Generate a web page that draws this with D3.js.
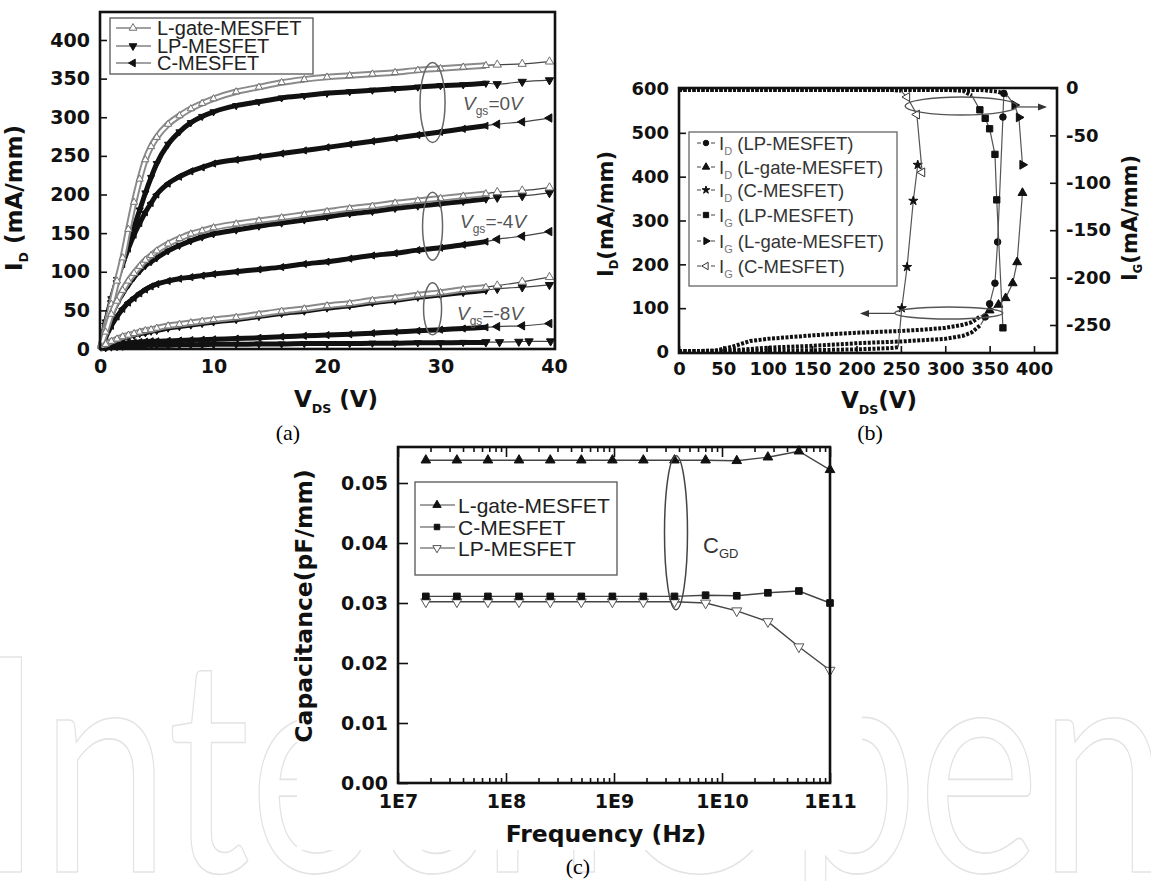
<!DOCTYPE html>
<html>
<head>
<meta charset="utf-8">
<script src="https://cdn.jsdelivr.net/npm/d3@7/dist/d3.min.js"></script>
<style>
  body { margin: 0; background: #fff; }
  text { font-family: "Liberation Sans", Arial, sans-serif; }
  .tick text, .ttl { font-family: "DejaVu Sans", sans-serif; font-weight: bold; fill: #111; }
  .tick line { stroke: #111; stroke-width: 1.6; }
</style>
</head>
<body>
<svg id="fig" width="1151" height="881"></svg>
<script>
// ---------- (a) I-V curves, mA/mm vs V ----------
const vdsA = [0, 0.5, 1, 1.5, 2, 2.5, 3, 3.5, 4, 4.5, 5, 6, 7, 8, 9, 10, 12, 14, 16, 18, 20, 22, 24, 26, 28, 30, 32, 34];
const vdsTailA = [35, 37.2, 39.6];
const vdsTailLow = [34, 35.2, 36.9, 37.8, 39.7];

const lgate0 = [0, 28, 58, 88, 118, 155, 190, 220, 245, 262, 274, 291, 302, 311, 318, 324, 333, 339, 345, 349, 352, 354, 356, 358, 361, 363, 365, 367];
const lp0    = [0, 35, 65, 90, 112, 135, 158, 180, 202, 222, 240, 265, 281, 293, 301, 307, 315, 320, 325, 328, 331, 333, 335, 337, 339, 341, 342, 344];
const c0     = [0, 33, 62, 88, 110, 130, 148, 163, 177, 189, 200, 214, 223, 230, 235, 240, 245, 249, 253, 257, 261, 265, 269, 273, 277, 281, 285, 289];
const lgate4 = [0, 22, 45, 62, 76, 88, 98, 107, 115, 121, 127, 136, 143, 149, 153, 157, 162, 166, 170, 174, 178, 182, 185, 189, 192, 195, 198, 201];
const lp4    = [0, 21, 43, 59, 72, 83, 93, 101, 108, 113, 118, 127, 134, 140, 145, 149, 154, 159, 163, 167, 171, 175, 178, 182, 185, 188, 191, 194];
const c4     = [0, 15, 30, 42, 52, 60, 66, 72, 77, 81, 84, 88, 91, 93, 95, 97, 100, 103, 106, 110, 113, 117, 121, 124, 128, 131, 135, 139];
const lgate8 = [0, 6, 10, 13, 16, 18, 20, 22, 24, 25, 27, 30, 32, 34, 36, 38, 41, 45, 49, 52, 56, 59, 63, 66, 70, 73, 77, 80];
const lp8    = [0, 5, 9, 12, 14, 16, 18, 20, 21, 23, 24, 27, 29, 31, 33, 35, 38, 42, 46, 49, 53, 56, 60, 63, 67, 70, 73, 76];
const c8     = [0, 3, 5, 6, 7, 8, 8.5, 9, 9.5, 10, 10, 10.5, 11, 11.5, 12, 12.5, 13.5, 14.5, 16, 17, 18, 19, 20.5, 22, 23.5, 25, 26.5, 28];
const lpLow  = [0, 1.5, 2.5, 3, 3.5, 4, 4, 4.5, 4.5, 5, 5, 5, 5.5, 5.5, 5.5, 6, 6, 6.5, 6.5, 7, 7, 7, 7.5, 7.5, 8, 8, 8.5, 8.5];

const lgate0Tail = [368, 369, 372], lp0Tail = [343, 346, 348], c0Tail = [291, 294, 299];
const lgate4Tail = [203, 205, 209], lp4Tail = [196, 198, 202], c4Tail = [142, 146, 152];
const lgate8Tail = [82, 87, 93], lp8Tail = [78, 80, 83], c8Tail = [29, 30, 33];
const lpLowTail = [9, 9, 9.5, 10, 10];

const ticksA_y = [0, 50, 100, 150, 200, 250, 300, 350, 400];
const ticksA_x = [0, 10, 20, 30, 40];

// ---------- (b) breakdown ----------
const idLgateV = [0, 25, 40, 60, 80, 100, 125, 150, 175, 200, 225, 250, 275, 300, 320, 330, 340, 350, 360, 368, 376, 381, 387];
const idLgate  = [2, 2, 3, 12, 25, 30, 34, 38, 41, 44, 46, 48, 51, 55, 62, 68, 82, 95, 108, 123, 157, 205, 363];
const idLpV = [0, 50, 75, 100, 125, 150, 175, 200, 225, 250, 275, 300, 320, 330, 340, 345, 350, 356, 359, 365, 366];
const idLp  = [2, 3, 6, 10, 12, 14, 17, 20, 22, 24, 27, 30, 37, 45, 62, 80, 110, 157, 251, 536, 590];
const idCV = [0, 50, 100, 150, 200, 240, 247, 251, 257, 264, 269];
const idC  = [1, 2, 3, 4, 6, 9, 11, 100, 194, 345, 427];
const igLpV = [0, 50, 100, 150, 200, 250, 300, 320, 330, 339, 345, 350, 356, 358, 365];
const igLp  = [-2, -2, -2, -2, -2, -2, -2, -3, -8, -23, -32, -43, -70, -118, -253];
const igLgateV = [0, 50, 100, 150, 200, 250, 300, 340, 360, 370, 378, 383, 387];
const igLgate  = [-2, -2, -2, -2, -2, -2, -2, -2, -4, -8, -18, -31, -81];
const igCV = [0, 50, 100, 150, 200, 240, 250, 257, 268, 274];
const igC  = [-2, -2, -2, -2, -2, -2, -3, -9.5, -28, -89];

const ticksB_x = [0, 50, 100, 150, 200, 250, 300, 350, 400];
const ticksB_yl = [0, 100, 200, 300, 400, 500, 600];
const ticksB_yr = [0, -50, -100, -150, -200, -250];

// ---------- (c) C_GD vs frequency ----------
const freq = [1.81e7, 3.51e7, 6.8e7, 1.32e8, 2.57e8, 4.98e8, 9.66e8, 1.87e9, 3.63e9, 7.05e9, 1.37e10, 2.66e10, 5.15e10, 1e11];
const capLgate = [0.0538, 0.0538, 0.0538, 0.0538, 0.0538, 0.0538, 0.0538, 0.0538, 0.0538, 0.0538, 0.0537, 0.0543, 0.0553, 0.0522];
const capC     = [0.0311, 0.0311, 0.0311, 0.0311, 0.0311, 0.0311, 0.0311, 0.0311, 0.0311, 0.0313, 0.0312, 0.0317, 0.0320, 0.0300];
const capLp    = [0.0302, 0.0302, 0.0302, 0.0302, 0.0302, 0.0302, 0.0302, 0.0302, 0.0302, 0.0300, 0.0287, 0.0269, 0.0227, 0.0188];
const decades = [1e7, 1e8, 1e9, 1e10, 1e11];
const ticksC_y = [0, 0.01, 0.02, 0.03, 0.04, 0.05];

const svg = d3.select('#fig');
svg.append('rect').attr('width', 1151).attr('height', 881).attr('fill', '#fff');

const zip = (xs, ys) => xs.map((v, i) => [v, ys[i]]);
const symType = {up: d3.symbolTriangle, down: d3.symbolTriangle, left: d3.symbolTriangle, right: d3.symbolTriangle,
  circle: d3.symbolCircle, square: d3.symbolSquare, star: d3.symbolStar};
const symRot = {down: 180, left: -90, right: 90};

function mark(g, pts, x, y, m) {
  g.append('g').selectAll('path').data(pts).join('path')
    .attr('d', d3.symbol().type(symType[m.shape]).size(m.size))
    .attr('transform', d => `translate(${x(d[0])},${y(d[1])}) rotate(${symRot[m.shape] || 0})`)
    .attr('fill', m.fill).attr('stroke', m.stroke).attr('stroke-width', m.sw || 1);
}

function frame(g, x0, y0, x1, y1) {
  g.append('rect').attr('x', x0).attr('y', y0).attr('width', x1 - x0).attr('height', y1 - y0)
    .attr('fill', 'none').attr('stroke', '#111').attr('stroke-width', 2.6);
}

function styleAxis(sel, size) {
  sel.select('.domain').remove();
  sel.selectAll('.tick text').style('font-size', size + 'px');
}

// title with an optional subscript: parts = [[text, isSub], ...]
function title(g, x, y, rot, parts, size, cls) {
  const t = g.append('text').attr('class', cls || 'ttl').attr('text-anchor', 'middle')
    .attr('transform', `translate(${x},${y}) rotate(${rot})`).style('font-size', size + 'px');
  let shift = 0;
  parts.forEach(([s, sub]) => {
    const want = sub ? size * 0.25 : 0;
    t.append('tspan').text(s).attr('dy', want - shift).style('font-size', sub ? (size * 0.55) + 'px' : null);
    shift = want;
  });
  return t;
}

// ---------- watermark ----------
svg.append('text').text('IntechOpen')
  .attr('x', -22).attr('y', 872)
  .attr('textLength', 1190).attr('lengthAdjust', 'spacingAndGlyphs')
  .style('font-family', 'Lato').style('font-weight', 400).style('font-size', '300px')
  .attr('fill', 'none').attr('stroke', '#e3e3e3').attr('stroke-width', 1.6);

// ================= panel (a) =================
const gA = svg.append('g');
const xA = d3.scaleLinear().domain([0, 40]).range([100, 554]);
const yA = d3.scaleLinear().domain([0, 400]).range([349, 40]);

const lineA = d3.line().x(d => xA(d[0])).y(d => yA(d[1])).curve(d3.curveMonotoneX);
const styleA = {
  lgate: {shape: 'up', fill: '#fff', stroke: '#707070'},
  lp: {shape: 'down', fill: '#111', stroke: '#111'},
  c: {shape: 'left', fill: '#111', stroke: '#111'}
};
const seriesA = [
  {dev: 'lp', dense: lpLow, tail: lpLowTail, tailV: vdsTailLow},
  {dev: 'c', dense: c0, tail: c0Tail}, {dev: 'c', dense: c4, tail: c4Tail}, {dev: 'c', dense: c8, tail: c8Tail},
  {dev: 'lp', dense: lp0, tail: lp0Tail}, {dev: 'lp', dense: lp4, tail: lp4Tail}, {dev: 'lp', dense: lp8, tail: lp8Tail},
  {dev: 'lgate', dense: lgate0, tail: lgate0Tail}, {dev: 'lgate', dense: lgate4, tail: lgate4Tail}, {dev: 'lgate', dense: lgate8, tail: lgate8Tail}
];
seriesA.forEach(s => {
  const st = styleA[s.dev];
  const dense = zip(vdsA, s.dense);
  const tail = [dense[dense.length - 1]].concat(zip(s.tailV || vdsTailA, s.tail));
  gA.append('path').attr('d', lineA(tail)).attr('fill', 'none').attr('stroke', '#444').attr('stroke-width', 1.2);
  if (s.dev === 'lgate') {
    gA.append('path').attr('d', lineA(dense)).attr('fill', 'none').attr('stroke', '#8a8a8a').attr('stroke-width', 6.5);
    gA.append('path').attr('d', lineA(dense)).attr('fill', 'none').attr('stroke', '#fff').attr('stroke-width', 2.6);
  } else {
    gA.append('path').attr('d', lineA(dense)).attr('fill', 'none').attr('stroke', '#111').attr('stroke-width', 5);
  }
  mark(gA, dense.slice(1), xA, yA, {...st, size: 22});
  mark(gA, tail.slice(1), xA, yA, {...st, size: 30});
});

frame(gA, 100, 12, 555, 349);
gA.append('g').attr('transform', 'translate(100,0)')
  .call(d3.axisLeft(yA).tickValues(ticksA_y).tickSize(-7).tickPadding(10)).call(styleAxis, 19);
gA.append('g').attr('transform', 'translate(0,349)')
  .call(d3.axisBottom(xA).tickValues(ticksA_x).tickSize(-7).tickPadding(11)).call(styleAxis, 19);

// ellipses + Vgs labels
[[319, 40, 12.5], [159, 34, 10], [52, 26, 9]].forEach(([c, ry, rx]) => {
  gA.append('ellipse').attr('cx', xA(29.3)).attr('cy', yA(c)).attr('rx', rx).attr('ry', ry)
    .attr('fill', 'none').attr('stroke', '#666').attr('stroke-width', 1.5);
});
[['=0', 463, 110], ['=-4', 460, 228], ['=-8', 457, 320]].forEach(([v, x, y]) => {
  const t = gA.append('text').attr('x', x).attr('y', y).style('font-size', '19px').attr('fill', '#555');
  t.append('tspan').text('V').style('font-style', 'italic');
  t.append('tspan').text('gs').attr('dy', 5).style('font-size', '12px');
  t.append('tspan').text(v).attr('dy', -5);
  t.append('tspan').text('V').style('font-style', 'italic');
});

// legend (a)
gA.append('rect').attr('x', 110).attr('y', 18).attr('width', 203).attr('height', 56)
  .attr('fill', '#fff').attr('stroke', '#555').attr('stroke-width', 1.3);
[['L-gate-MESFET', 'lgate', 28], ['LP-MESFET', 'lp', 46], ['C-MESFET', 'c', 63]].forEach(([name, dev, y]) => {
  gA.append('line').attr('x1', 116).attr('x2', 151).attr('y1', y).attr('y2', y).attr('stroke', '#444').attr('stroke-width', 1.2);
  mark(gA, [[133, y]], d => d, d => d, {...styleA[dev], size: 26});
  gA.append('text').attr('x', 157).attr('y', y).attr('dy', '0.36em').style('font-size', '20px').attr('fill', '#222').text(name);
});

title(gA, 22, 198, -90, [['I', false], ['D', true], [' (mA/mm)', false]], 23);
title(gA, 336, 407, 0, [['V', false], ['DS', true], [' (V)', false]], 23);
gA.append('text').attr('x', 288).attr('y', 440).attr('text-anchor', 'middle')
  .style('font-family', '"Liberation Serif", serif').style('font-size', '22px').text('(a)');

// ================= panel (b) =================
const gB = svg.append('g');
const xB = d3.scaleLinear().domain([0, 400]).range([679, 1034]);
const yBl = d3.scaleLinear().domain([0, 600]).range([352, 89]);
const yBr = d3.scaleLinear().domain([-250, 0]).range([325, 88]);

const seriesB = [
  {x: idLpV, y: idLp, ax: yBl, dense: 15, m: {shape: 'circle', fill: '#111', stroke: '#111', size: 34}},
  {x: idLgateV, y: idLgate, ax: yBl, dense: 17, m: {shape: 'up', fill: '#111', stroke: '#111', size: 34}},
  {x: idCV, y: idC, ax: yBl, dense: 7, m: {shape: 'star', fill: '#111', stroke: '#111', size: 26}},
  {x: igLpV, y: igLp, ax: yBr, dense: 9, m: {shape: 'square', fill: '#111', stroke: '#111', size: 40}},
  {x: igLgateV, y: igLgate, ax: yBr, dense: 10, m: {shape: 'right', fill: '#111', stroke: '#111', size: 34}},
  {x: igCV, y: igC, ax: yBr, dense: 7, m: {shape: 'left', fill: '#fff', stroke: '#333', size: 34}}
];
seriesB.forEach(s => {
  const pts = zip(s.x, s.y);
  const ln = d3.line().x(d => xB(d[0])).y(d => s.ax(d[1]));
  gB.append('path').attr('d', ln(pts.slice(s.dense - 1))).attr('fill', 'none').attr('stroke', '#555').attr('stroke-width', 1.2);
  gB.append('path').attr('d', ln(pts.slice(0, s.dense))).attr('fill', 'none').attr('stroke', '#111')
    .attr('stroke-width', 4).attr('stroke-dasharray', '3,1.5');
  mark(gB, pts.slice(s.dense), xB, s.ax, s.m);
});

// ellipses and arrows
const arrowHead = (x, y, dir) => gB.append('path')
  .attr('d', `M${x},${y} l${-9 * dir},-3.5 l0,7 z`).attr('fill', '#333');
gB.append('ellipse').attr('cx', xB(318)).attr('cy', yBr(-19)).attr('rx', 56).attr('ry', 9)
  .attr('fill', 'none').attr('stroke', '#555').attr('stroke-width', 1.4);
gB.append('line').attr('x1', xB(318) + 56).attr('x2', 1045).attr('y1', yBr(-20)).attr('y2', yBr(-20)).attr('stroke', '#444').attr('stroke-width', 1.2);
arrowHead(1047, yBr(-20), 1);
gB.append('ellipse').attr('cx', xB(304)).attr('cy', yBl(89)).attr('rx', 54).attr('ry', 6)
  .attr('fill', 'none').attr('stroke', '#555').attr('stroke-width', 1.4);
gB.append('line').attr('x1', xB(304) - 54).attr('x2', 862).attr('y1', yBl(88)).attr('y2', yBl(88)).attr('stroke', '#444').attr('stroke-width', 1.2);
arrowHead(860, yBl(88), -1);

frame(gB, 679, 88, 1057, 353);
gB.append('g').attr('transform', 'translate(679,0)')
  .call(d3.axisLeft(yBl).tickValues(ticksB_yl).tickSize(-7).tickPadding(10)).call(styleAxis, 18);
gB.append('g').attr('transform', 'translate(1057,0)')
  .call(d3.axisRight(yBr).tickValues(ticksB_yr).tickFormat(d => String(d)).tickSize(-7).tickPadding(9)).call(styleAxis, 18);
gB.append('g').attr('transform', 'translate(0,353)')
  .call(d3.axisBottom(xB).tickValues(ticksB_x).tickSize(-7).tickPadding(9)).call(styleAxis, 18);

// legend (b): entries follow seriesB order
const legB = [['D', '(LP-MESFET)'], ['D', '(L-gate-MESFET)'], ['D', '(C-MESFET)'],
  ['G', '(LP-MESFET)'], ['G', '(L-gate-MESFET)'], ['G', '(C-MESFET)']];
const legBy = [143, 167, 190, 215, 241, 266];
gB.append('rect').attr('x', 689).attr('y', 132).attr('width', 208).attr('height', 154)
  .attr('fill', '#fff').attr('stroke', '#666').attr('stroke-width', 1.3);
legB.forEach(([sub, name], i) => {
  const y = legBy[i];
  gB.append('line').attr('x1', 697).attr('x2', 716).attr('y1', y).attr('y2', y)
    .attr('stroke', '#444').attr('stroke-width', 1.2).attr('stroke-dasharray', '4,3');
  mark(gB, [[706, y]], d => d, d => d, {...seriesB[i].m, size: seriesB[i].m.size * 0.7});
  const t = gB.append('text').attr('x', 719).attr('y', y).attr('dy', '0.36em').style('font-size', '18.5px').attr('fill', '#333');
  t.append('tspan').text('I');
  t.append('tspan').text(sub).attr('dy', 5).style('font-size', '11px').attr('fill', '#777');
  t.append('tspan').text(' ' + name).attr('dy', -5);
});

title(gB, 613, 214, -90, [['I', false], ['D', true], ['(mA/mm)', false]], 21);
title(gB, 1137, 218, -90, [['I', false], ['G', true], ['(mA/mm)', false]], 21);
title(gB, 879, 408, 0, [['V', false], ['DS', true], ['(V)', false]], 23);
gB.append('text').attr('x', 870).attr('y', 440).attr('text-anchor', 'middle')
  .style('font-family', '"Liberation Serif", serif').style('font-size', '22px').text('(b)');

// ================= panel (c) =================
const gC = svg.append('g');
gC.append('rect').attr('x', 297).attr('y', 444).attr('width', 565).attr('height', 406).attr('fill', '#fff');
const xC = d3.scaleLog().domain([1e7, 1e11]).range([398, 830]);
const yC = d3.scaleLinear().domain([0, 0.056]).range([783, 447]);
const minor = decades.slice(0, 4).flatMap(d => d3.range(2, 10).map(k => d * k));

const seriesC = [
  {y: capLgate, m: {shape: 'up', fill: '#111', stroke: '#111', size: 40}},
  {y: capLp, m: {shape: 'down', fill: '#fff', stroke: '#555', size: 44}},
  {y: capC, m: {shape: 'square', fill: '#111', stroke: '#111', size: 44}}
];
const lineC = d3.line().x(d => xC(d[0])).y(d => yC(d[1]));
seriesC.forEach(s => {
  gC.append('path').attr('d', lineC(zip(freq, s.y))).attr('fill', 'none').attr('stroke', '#444').attr('stroke-width', 1.4);
});
seriesC.forEach(s => mark(gC, zip(freq, s.y), xC, yC, s.m));

frame(gC, 398, 447, 830, 783);
const fmtE = d => '1E' + Math.round(Math.log10(d));
gC.append('g').attr('transform', 'translate(0,783)')
  .call(d3.axisBottom(xC).tickValues(decades).tickFormat(fmtE).tickSize(-10).tickPadding(12)).call(styleAxis, 19);
gC.append('g').attr('transform', 'translate(0,783)')
  .call(d3.axisBottom(xC).tickValues(minor).tickFormat('').tickSize(-5)).call(styleAxis, 19);
gC.append('g').attr('transform', 'translate(0,447)')
  .call(d3.axisTop(xC).tickValues(decades).tickFormat('').tickSize(-10)).call(styleAxis, 19);
gC.append('g').attr('transform', 'translate(0,447)')
  .call(d3.axisTop(xC).tickValues(minor).tickFormat('').tickSize(-5)).call(styleAxis, 19);
gC.append('g').attr('transform', 'translate(398,0)')
  .call(d3.axisLeft(yC).tickValues(ticksC_y).tickFormat(d3.format('.2f')).tickSize(-10).tickPadding(10)).call(styleAxis, 19);

// legend (c)
gC.append('rect').attr('x', 415).attr('y', 482).attr('width', 202).attr('height', 93)
  .attr('fill', '#fff').attr('stroke', '#555').attr('stroke-width', 1.3);
[['L-gate-MESFET', 0, 505], ['C-MESFET', 2, 527], ['LP-MESFET', 1, 548]].forEach(([name, i, y]) => {
  gC.append('line').attr('x1', 420).attr('x2', 455).attr('y1', y).attr('y2', y).attr('stroke', '#444').attr('stroke-width', 1.2);
  mark(gC, [[437, y]], d => d, d => d, {...seriesC[i].m, size: 30});
  gC.append('text').attr('x', 458).attr('y', y).attr('dy', '0.36em').style('font-size', '21px').attr('fill', '#222').text(name);
});

// C_GD ellipse
gC.append('ellipse').attr('cx', xC(3.75e9)).attr('cy', yC(0.0417)).attr('rx', 11.5).attr('ry', 77)
  .attr('fill', 'none').attr('stroke', '#444').attr('stroke-width', 1.5);
const cg = gC.append('text').attr('x', 703).attr('y', 553).style('font-size', '22px').attr('fill', '#333');
cg.append('tspan').text('C');
cg.append('tspan').text('GD').attr('dy', 5).style('font-size', '13px');

title(gC, 312, 606, -90, [['Capacitance(pF/mm)', false]], 23.5);
title(gC, 606, 842, 0, [['Frequency (Hz)', false]], 23.5);
gC.append('text').attr('x', 578).attr('y', 874).attr('text-anchor', 'middle')
  .style('font-family', '"Liberation Serif", serif').style('font-size', '22px').text('(c)');
</script>
</body>
</html>
